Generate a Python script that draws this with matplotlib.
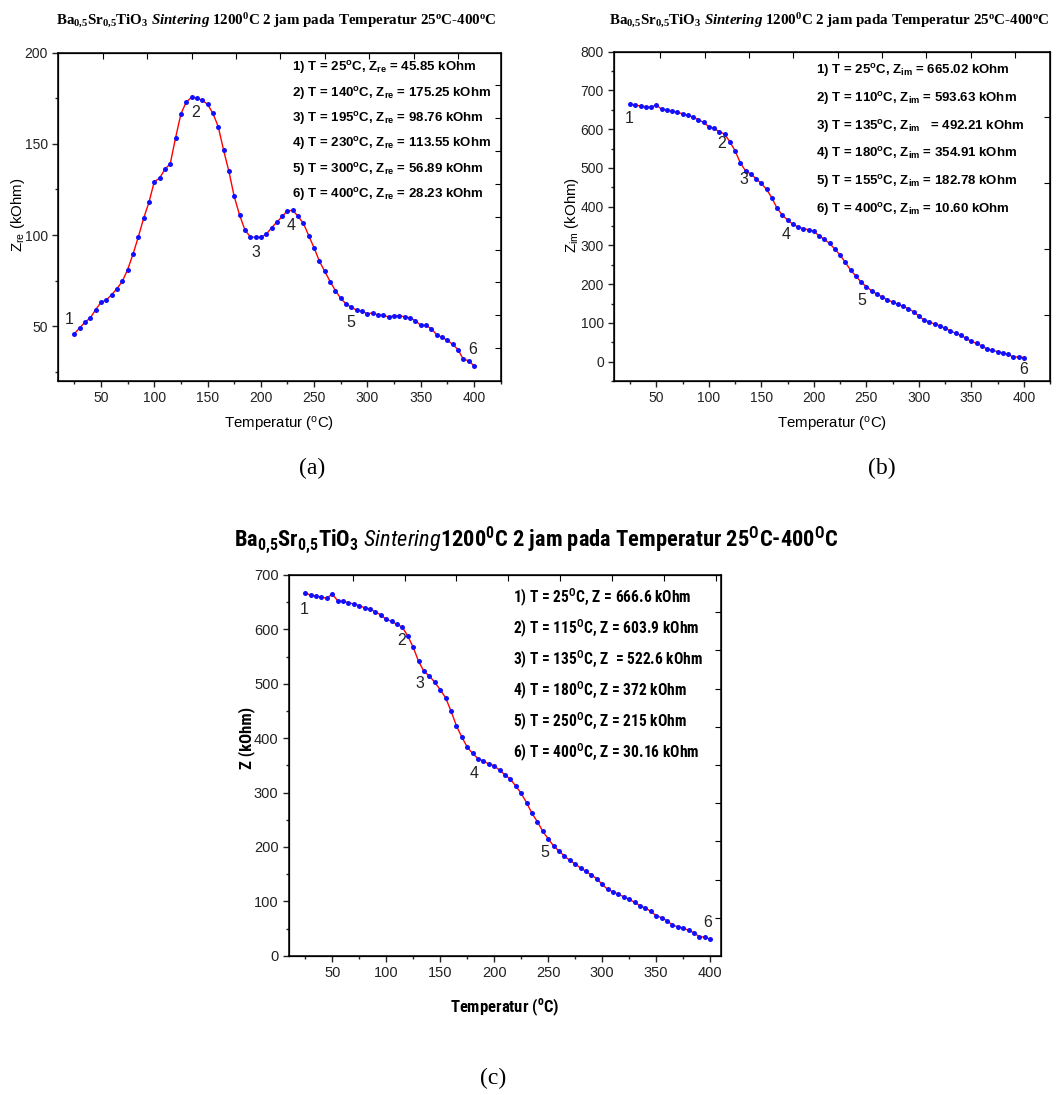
import numpy as np
import matplotlib
matplotlib.use("Agg")
import matplotlib.pyplot as plt
from matplotlib.ticker import MultipleLocator
from matplotlib import font_manager

plt.rcParams['font.family'] = ['Liberation Sans', 'DejaVu Sans']
plt.rcParams['mathtext.default'] = 'regular'
plt.rcParams['mathtext.fontset'] = 'custom'
plt.rcParams['mathtext.it'] = 'Liberation Serif:bold:italic'
plt.rcParams['mathtext.sf'] = 'Liberation Sans:italic'

# data (kOhm)
temperatur = [25, 30, 35, 40, 45, 50, 55, 60, 65, 70, 75, 80, 85, 90, 95, 100,
              105, 110, 115, 120, 125, 130, 135, 140, 145, 150, 155, 160, 165,
              170, 175, 180, 185, 190, 195, 200, 205, 210, 215, 220, 225, 230,
              235, 240, 245, 250, 255, 260, 265, 270, 275, 280, 285, 290, 295,
              300, 305, 310, 315, 320, 325, 330, 335, 340, 345, 350, 355, 360,
              365, 370, 375, 380, 385, 390, 395, 400]

z_re = [45.85, 49.1, 52.2, 54.6, 59.1, 63.1, 64.4, 67.3, 70.6, 74.6, 81.0, 89.4,
        98.9, 109.1, 117.9, 129.2, 131.2, 136.1, 139.1, 153.3, 166.4, 173.0,
        175.5, 175.25, 173.9, 171.7, 166.8, 159.5, 146.7, 135.0, 121.2, 111.1,
        102.9, 99.1, 98.76, 98.9, 100.4, 104.0, 107.1, 110.2, 113.3, 113.55,
        110.2, 106.4, 99.6, 92.9, 85.6, 80.1, 74.5, 69.5, 65.3, 62.2, 60.4,
        58.8, 58.2, 56.89, 57.3, 56.2, 56.0, 55.1, 55.8, 55.7, 55.3, 54.6, 53.1,
        50.5, 50.5, 48.7, 45.3, 44.0, 42.3, 40.1, 37.2, 31.8, 31.2, 28.23]

z_im = [665.02, 662.4, 659.8, 658.0, 656.3, 663.2, 651.2, 649.5, 646.9, 643.4,
        640.0, 635.7, 631.4, 624.5, 617.6, 606.5, 602.2, 593.63, 587.5, 567.7,
        544.5, 513.5, 492.21, 484.3, 472.3, 460.2, 444.7, 423.2, 395.7, 378.5,
        365.6, 354.91, 347.5, 343.2, 340.6, 336.3, 325.2, 315.7, 305.4, 290.8,
        275.3, 256.3, 236.6, 221.1, 205.6, 193.5, 183.2, 174.6, 166.9, 160.0,
        154.0, 148.0, 142.8, 136.8, 129.0, 117.8, 107.5, 102.4, 97.2, 92.9, 86.0,
        80.0, 73.1, 68.0, 60.2, 52.5, 47.3, 40.4, 32.7, 29.2, 25.8, 21.5, 18.9,
        12.0, 12.0, 10.60]

z_tot = [666.6, 663.2, 661.4, 659.5, 657.1, 665.1, 652.8, 651.6, 649.1, 646.7,
         643.6, 639.9, 637.5, 632.6, 626.4, 618.5, 614.8, 609.3, 603.9, 587.8,
         567.0, 541.2, 522.6, 514.3, 502.6, 489.1, 474.4, 449.9, 422.9, 402.1,
         383.7, 372.0, 362.3, 358.0, 352.5, 349.4, 340.8, 332.8, 324.3, 312.0,
         298.5, 281.3, 261.7, 246.4, 228.6, 215.0, 201.7, 192.5, 183.3, 175.3,
         168.6, 161.2, 155.1, 148.3, 141.6, 131.2, 122.0, 117.7, 112.8, 108.5,
         103.6, 98.1, 92.0, 87.7, 81.5, 73.6, 69.9, 64.4, 56.4, 53.3, 50.9, 46.6,
         42.3, 34.9, 34.3, 30.16]

ket_a = [r"1) T = 25$^o$C, Z$_{re}$ = 45.85 kOhm",
         r"2) T = 140$^o$C, Z$_{re}$ = 175.25 kOhm",
         r"3) T = 195$^o$C, Z$_{re}$ = 98.76 kOhm",
         r"4) T = 230$^o$C, Z$_{re}$ = 113.55 kOhm",
         r"5) T = 300$^o$C, Z$_{re}$ = 56.89 kOhm",
         r"6) T = 400$^o$C, Z$_{re}$ = 28.23 kOhm"]
ket_b = [r"1) T = 25$^o$C, Z$_{im}$ = 665.02 kOhm",
         r"2) T = 110$^o$C, Z$_{im}$ = 593.63 kOhm",
         r"3) T = 135$^o$C, Z$_{im}$   = 492.21 kOhm",
         r"4) T = 180$^o$C, Z$_{im}$ = 354.91 kOhm",
         r"5) T = 155$^o$C, Z$_{im}$ = 182.78 kOhm",
         r"6) T = 400$^o$C, Z$_{im}$ = 10.60 kOhm"]
ket_c = [r"1) T = 25$^O$C, Z = 666.6 kOhm",
         r"2) T = 115$^O$C, Z = 603.9 kOhm",
         r"3) T = 135$^O$C, Z  = 522.6 kOhm",
         r"4) T = 180$^O$C, Z = 372 kOhm",
         r"5) T = 250$^O$C, Z = 215 kOhm",
         r"6) T = 400$^O$C, Z = 30.16 kOhm"]

# label position of the numbers 1..6 (data units)
nomor_a = [(20, 53.6), (139, 167.3), (195, 90.7), (228, 105), (284, 52), (399, 37)]
nomor_b = [(24, 628), (112, 562), (133, 471), (174, 329), (246, 157), (400, -21)]
nomor_c = [(24, 637), (114, 579), (131, 501), (181, 335), (247, 190), (398, 61)]

# narrow font for panel (c) if one is installed
narrow = None
for nama in ['Liberation Sans Narrow', 'Arial Narrow', 'Roboto Condensed',
             'Open Sans Condensed']:
    try:
        font_manager.findfont(font_manager.FontProperties(family=nama),
                              fallback_to_default=False)
        narrow = nama
        break
    except ValueError:
        pass
if narrow:
    fam_c, fs_ket_c, fs_judul_c, fs_lab_c = [narrow, 'Liberation Sans'], 11.2, 16.2, 12
    plt.rcParams['mathtext.sf'] = narrow + ':italic'
else:
    fam_c, fs_ket_c, fs_judul_c, fs_lab_c = ['Liberation Sans'], 10.2, 14, 10.5

W, H = 1063, 1095
fig = plt.figure(figsize=(W / 100, H / 100), dpi=100)


def px(x, y):
    return x / W, 1 - y / H


def panel(rect, y, ylim, ymaj, ymin, xlim, top_ticks, right_ticks, tick_fs):
    ax = fig.add_axes(rect)
    ax.plot(temperatur, y, color='red', lw=1.0, zorder=2)
    ax.plot(temperatur, y, 'o', color='#1010ff', ms=3.6, mew=0, zorder=3)
    ax.set_xlim(*xlim)
    ax.set_ylim(*ylim)
    ax.xaxis.set_major_locator(MultipleLocator(50))
    ax.xaxis.set_minor_locator(MultipleLocator(25))
    ax.yaxis.set_major_locator(MultipleLocator(ymaj))
    ax.yaxis.set_minor_locator(MultipleLocator(ymin))
    ax.tick_params(which='both', direction='out', top=False, right=False,
                   labelsize=tick_fs, width=1, colors='#222222')
    ax.tick_params(which='major', length=4)
    ax.tick_params(which='minor', length=2.5)
    for s in ax.spines.values():
        s.set_linewidth(1.1)
    # mirrored axes with their own tick spacing
    axt = ax.twiny()
    axt.set_xlim(*xlim)
    axt.set_xticks(top_ticks)
    axt.tick_params(direction='in', length=4, labeltop=False)
    axr = ax.twinx()
    axr.set_ylim(*ylim)
    axr.set_yticks(right_ticks)
    axr.tick_params(direction='in', length=4, labelright=False)
    return ax


ax_a = panel([58.3 / W, 1 - 381 / H, 442.4 / W, 328.3 / H], z_re, (20, 200), 50, 25,
             (10, 425), [51.6, 93.3, 135, 176.7, 218.4, 260.1, 301.8, 343.5, 385.2],
             [38, 56, 74.1, 92, 109.9, 127.9, 145.9, 164.1, 182.1], 10)
ax_b = panel([614.3 / W, 1 - 381 / H, 435.7 / W, 329.3 / H], z_im, (-50, 800), 100, 50,
             (10, 425), [53.6, 96.5, 138.7, 180.6, 222.8, 265, 307.2, 349.4, 391.6],
             [119.6, 289.9, 460.2, 630.5], 10)
ax_c = panel([289 / W, 1 - 955.7 / H, 432 / W, 380.7 / H], z_tot, (0, 700), 100, 50,
             (10, 410), [69, 117, 165, 213, 261, 309, 357, 405],
             [69.8, 140, 210, 280, 350.5, 421, 491, 561.5, 632], 10.5)

for ax, nomor in [(ax_a, nomor_a), (ax_b, nomor_b), (ax_c, nomor_c)]:
    for i, (nx, ny) in enumerate(nomor):
        ax.text(nx, ny, str(i + 1), fontsize=11.5, ha='center', va='center',
                color='#222222', zorder=4)

# keterangan
for i, t in enumerate(ket_a):
    fig.text(*px(291.7, 67.7 + 25.4 * i), t, fontsize=9.5, fontweight='bold',
             va='center', ha='left')
for i, t in enumerate(ket_b):
    fig.text(*px(816, 71 + 27.6 * i), t, fontsize=9.5, fontweight='bold',
             va='center', ha='left')
for i, t in enumerate(ket_c):
    fig.text(*px(512.7, 597.7 + 31.1 * i), t, fontsize=fs_ket_c, fontweight='bold',
             va='center', ha='left', family=fam_c)

# judul
judul_ab = (r"Ba$_{0{,}5}$Sr$_{0{,}5}$TiO$_3$ $\mathit{Sintering}$ 1200$^0$C 2 jam pada "
            r"Temperatur 25$^o$C-400$^o$C")
fig.text(*px(276, 21), judul_ab, fontsize=10.8, fontweight='bold',
         family='Liberation Serif', ha='center', va='center')
fig.text(*px(829, 21), judul_ab, fontsize=10.8, fontweight='bold',
         family='Liberation Serif', ha='center', va='center')
judul_c = (r"Ba$_{0{,}5}$Sr$_{0{,}5}$TiO$_3$ $\mathsf{Sintering}$1200$^0$C 2 jam pada "
           r"Temperatur 25$^O$C-400$^O$C")
fig.text(*px(536, 541), judul_c, fontsize=fs_judul_c, fontweight='bold',
         family=fam_c, ha='center', va='center')

# label sumbu
fig.text(*px(279, 425), r"Temperatur ($^o$C)", fontsize=10.8, ha='center', va='center')
fig.text(*px(832, 425), r"Temperatur ($^o$C)", fontsize=10.8, ha='center', va='center')
fig.text(*px(18, 215), r"Z$_{re}$ (kOhm)", fontsize=10.8, ha='center', va='center',
         rotation=90)
fig.text(*px(572, 215), r"Z$_{im}$ (kOhm)", fontsize=10.8, ha='center', va='center',
         rotation=90)
fig.text(*px(505, 1007), r"Temperatur ($^o$C)", fontsize=fs_lab_c, fontweight='bold',
         family=fam_c, ha='center', va='center')
fig.text(*px(247, 738), "Z (kOhm)", fontsize=fs_lab_c, fontweight='bold',
         family=fam_c, ha='center', va='center', rotation=90)

for x, y, t in [(312, 468, "(a)"), (882, 468, "(b)"), (493, 1078, "(c)")]:
    fig.text(*px(x, y), t, fontsize=17, family='Liberation Serif', ha='center',
             va='center')

fig.savefig("out.png", dpi=100)
